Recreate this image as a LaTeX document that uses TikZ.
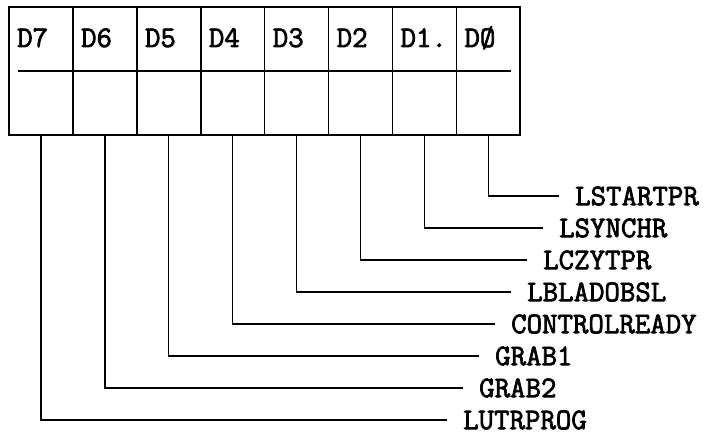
\documentclass[tikz,border=0pt]{standalone}
\usepackage{fontspec}
\newfontfamily\printfont[FakeBold=2.4]{Latin Modern Mono}
\usetikzlibrary{positioning}

\begin{document}
\begin{tikzpicture}[x=1pt, y=-1pt, node distance=0pt,
  font=\printfont\fontsize{30}{34}\selectfont,
  bit/.style={draw, line width=1.6pt, outer sep=0pt, inner sep=0pt, minimum width=63.9pt, minimum height=128pt},
  bitname/.style={anchor=base west, inner sep=0pt},
  signal/.style={anchor=west, inner xsep=16pt, inner ysep=0pt},
  wire/.style={line width=1.3pt}]
  \useasboundingbox (0,0) rectangle (705,435);
  % register cells, D7 on the left
  \node[bit, anchor=north west] (b7) at (9,7) {};
  \node[bit, right=of b7] (b6) {};
  \node[bit, right=of b6] (b5) {};
  \node[bit, right=of b5] (b4) {};
  \node[bit, right=of b4] (b3) {};
  \node[bit, right=of b3] (b2) {};
  \node[bit, right=of b2] (b1) {};
  \node[bit, right=of b1] (b0) {};
  \draw[line width=1.4pt] ([xshift=9pt]b7.west) -- ([xshift=-9pt]b0.east);
  \node[bitname] (n7) at ([shift={(8,40)}]b7.north west) {D7};
  \node[bitname] (n6) at ([shift={(8,40)}]b6.north west) {D6};
  \node[bitname] (n5) at ([shift={(8,40)}]b5.north west) {D5};
  \node[bitname] (n4) at ([shift={(8,40)}]b4.north west) {D4};
  \node[bitname] (n3) at ([shift={(8,40)}]b3.north west) {D3};
  \node[bitname] (n2) at ([shift={(8,40)}]b2.north west) {D2};
  \node[bitname] (n1) at ([shift={(8,40)}]b1.north west) {D1.};
  \node[bitname] (n0) at ([shift={(8,40)}]b0.north west) {DØ};
  % signal names
  \node[signal] (lstartpr) at (559,196) {LSTARTPR};
  \node[signal] (lsynchr) at (543,228) {LSYNCHR};
  \node[signal] (lczytpr) at (527,260) {LCZYTPR};
  \node[signal] (lbladobsl) at (511,292) {LBLADOBSL};
  \node[signal] (ctrlready) at (495,324) {CONTROLREADY};
  \node[signal] (grab1) at (479,356) {GRAB1};
  \node[signal] (grab2) at (463,388) {GRAB2};
  \node[signal] (lutrprog) at (447,420) {LUTRPROG};
  \draw[wire] (b0.south) |- (lstartpr);
  \draw[wire] (b1.south) |- (lsynchr);
  \draw[wire] (b2.south) |- (lczytpr);
  \draw[wire] (b3.south) |- (lbladobsl);
  \draw[wire] (b4.south) |- (ctrlready);
  \draw[wire] (b5.south) |- (grab1);
  \draw[wire] (b6.south) |- (grab2);
  \draw[wire] (b7.south) |- (lutrprog);
\end{tikzpicture}
\end{document}
